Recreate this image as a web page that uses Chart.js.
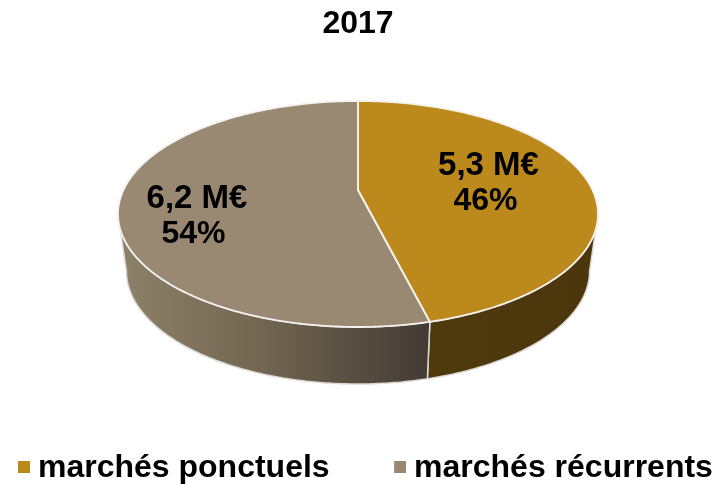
<!DOCTYPE html>
<html>
<head>
<meta charset="utf-8">
<style>html,body{margin:0;padding:0;background:#fff}canvas{display:block}</style>
<script src="https://cdn.jsdelivr.net/npm/chart.js@4"></script>
</head>
<body>
<canvas id="c" width="721" height="484"></canvas>
<script>
const chartTitle = '2017';
const categories = ['marchés ponctuels', 'marchés récurrents'];
const amounts = [5.3, 6.2];
const amountLabels = ['5,3 M€', '6,2 M€'];
const percentLabels = ['46%', '54%'];
const sliceColors = ['#BC8A1C', '#998872'];

const FONT = '"Liberation Sans", Arial, sans-serif';
// Perspective view of the flat disc
const view = {cx: 358, cy: 190, bx: 234.5, by: 107.9, k: -0.2124, depth: 57, shrink: 0.965};
const amountSpots = [[488.5, 166], [197, 199]];
const percentSpots = [[485.5, 201], [193.5, 234]];
const legendGap = '      ';

function project(a, f) {
  const ux = Math.cos(a) * f, uy = Math.sin(a) * f, w = 1 + view.k * uy;
  return [view.cx + view.bx * ux / w, view.cy + view.by * uy / w];
}
function lower(p) {
  return [view.cx + (p[0] - view.cx) * view.shrink, p[1] + view.depth];
}
function arcPoints(a0, a1) {
  const n = Math.max(2, Math.ceil(Math.abs(a1 - a0) / 0.01)), pts = [];
  for (let i = 0; i <= n; i++) pts.push(project(a0 + (a1 - a0) * i / n, 1));
  return pts;
}
function legendMark(color) {
  const c = document.createElement('canvas');
  c.width = 28; c.height = 15;
  const g = c.getContext('2d');
  g.fillStyle = color;
  g.fillRect(16, 0, 12, 12);
  return c;
}
function sideFill(ctx, i) {
  if (i === 0) {
    const h = ctx.createLinearGradient(428, 0, 598, 0);
    h.addColorStop(0, '#4f3a0e');
    h.addColorStop(1, '#4b360c');
    return h;
  }
  const g = ctx.createLinearGradient(118, 0, 428, 0);
  g.addColorStop(0, '#8e8169');
  g.addColorStop(0.45, '#736752');
  g.addColorStop(1, '#433b35');
  return g;
}

const pie3d = {
  id: 'pie3d',
  beforeDatasetsDraw(chart) {
    const ctx = chart.ctx, arcs = chart.getDatasetMeta(0).data;
    const edge = Math.asin(0.2124);
    ctx.save();
    ctx.lineJoin = 'round';
    arcs.forEach((el, i) => {
      const a0 = Math.max(el.startAngle, edge), a1 = Math.min(el.endAngle, Math.PI - edge);
      if (a1 <= a0) return;
      const top = arcPoints(a0, a1), bottom = top.map(lower).reverse();
      ctx.beginPath();
      top.concat(bottom).forEach((p, j) => j ? ctx.lineTo(p[0], p[1]) : ctx.moveTo(p[0], p[1]));
      ctx.closePath();
      ctx.fillStyle = sideFill(ctx, i);
      ctx.fill();
      ctx.strokeStyle = '#dcd9d4';
      ctx.lineWidth = 1.5;
      ctx.stroke();
    });
    arcs.forEach((el, i) => {
      const pts = arcPoints(el.startAngle, el.endAngle);
      ctx.beginPath();
      ctx.moveTo(view.cx, view.cy);
      pts.forEach(p => ctx.lineTo(p[0], p[1]));
      ctx.closePath();
      ctx.fillStyle = sliceColors[i];
      ctx.fill();
    });
    arcs.forEach(el => {
      const pts = arcPoints(el.startAngle, el.endAngle);
      ctx.beginPath();
      ctx.moveTo(view.cx, view.cy);
      pts.forEach(p => ctx.lineTo(p[0], p[1]));
      ctx.closePath();
      ctx.strokeStyle = '#f4f2ee';
      ctx.lineWidth = 1.8;
      ctx.stroke();
    });
    ctx.restore();
    return false;
  },
  afterDraw(chart) {
    const ctx = chart.ctx;
    ctx.save();
    ctx.fillStyle = '#000';
    ctx.textAlign = 'center';
    ctx.textBaseline = 'middle';
    ctx.font = 'bold 33px ' + FONT;
    amountLabels.forEach((t, i) => ctx.fillText(t, amountSpots[i][0], amountSpots[i][1]));
    ctx.font = 'bold 32px ' + FONT;
    percentLabels.forEach((t, i) => ctx.fillText(t, percentSpots[i][0], percentSpots[i][1]));
    ctx.restore();
  }
};

new Chart(document.getElementById('c'), {
  type: 'pie',
  data: {
    labels: categories,
    datasets: [{data: amounts, backgroundColor: sliceColors, borderColor: '#ffffff', borderWidth: 1}]
  },
  plugins: [pie3d],
  options: {
    responsive: false,
    animation: false,
    events: [],
    layout: {padding: {top: 0, right: 5, bottom: -10.5, left: 0}},
    plugins: {
      tooltip: {enabled: false},
      title: {
        display: true,
        text: chartTitle,
        color: '#000',
        font: {family: FONT, size: 32, weight: 'bold'},
        padding: {top: 5, bottom: 10}
      },
      legend: {
        position: 'bottom',
        align: 'end',
        labels: {
          color: '#000',
          font: {family: FONT, size: 32, weight: 'bold'},
          usePointStyle: true,
          boxWidth: 12,
          boxHeight: 12,
          padding: 3.1,
          generateLabels(chart) {
            return categories.map((t, i) => ({
              text: i === 0 ? t + legendGap : t,
              fontColor: '#000',
              fillStyle: sliceColors[i],
              strokeStyle: sliceColors[i],
              lineWidth: 0,
              pointStyle: legendMark(sliceColors[i]),
              index: i,
              hidden: false
            }));
          }
        }
      }
    }
  }
});
</script>
</body>
</html>
